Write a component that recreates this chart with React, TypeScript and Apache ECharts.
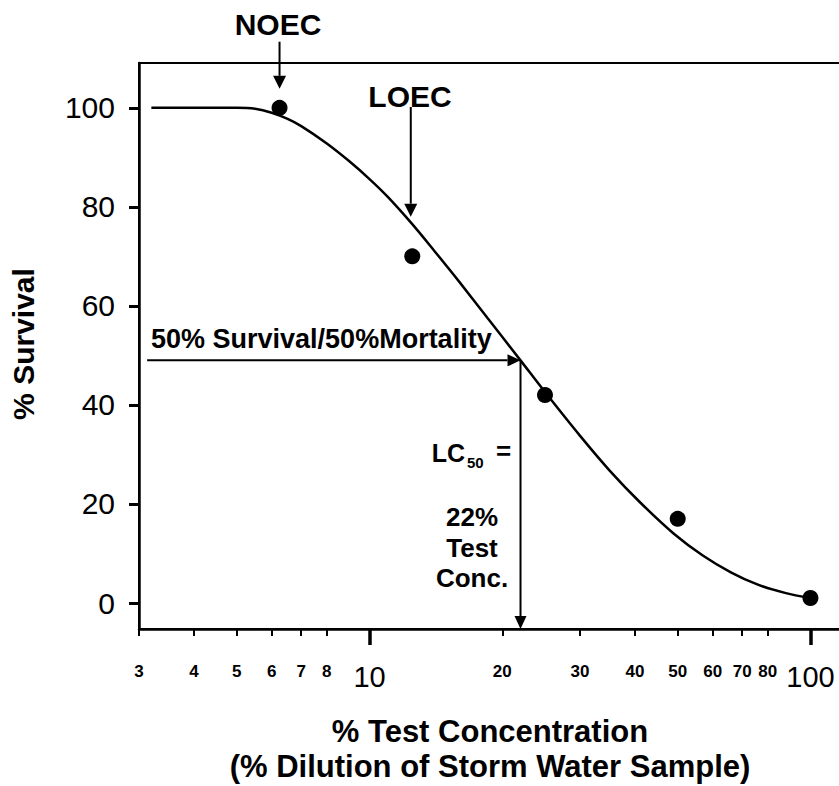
import React, { useEffect, useRef } from "react";
import * as echarts from "echarts";

// Observed test results (concentration %, survival %)
const concentrations = [6.25, 12.5, 25, 50, 100];
const survival = [100, 70, 42, 17, 1];

// Fitted dose-response curve
const curveConc = [3.2, 4, 5, 5.5, 6, 6.5, 7, 8, 9, 10, 11, 12.5, 14, 16, 18.5, 22, 25, 30, 35, 41, 49, 57, 66, 76, 88, 100];
const curveSurv = [100, 100, 100, 99.8, 99.0, 97.8, 96.3, 92.8, 89.2, 85.6, 82.0, 76.5, 71.2, 64.8, 57.6, 49.0, 42.6, 33.8, 26.8, 20.4, 14.0, 9.6, 6.2, 3.7, 2.0, 1.0];

// Axis ticks
const xTickValues = [3, 4, 5, 6, 7, 8, 10, 20, 30, 40, 50, 60, 70, 80, 100];
const xMajorTicks = [10, 100];
const yTicks = [0, 20, 40, 60, 80, 100];

// Annotated values
const noecConc = 6.25;
const loecConc = 12.5;
const lc50Conc = 22;
const lc50Survival = 49;

const FONT = "'Liberation Sans', Arial, Helvetica, sans-serif";
const INK = "#000";

export default function App() {
  const ref = useRef<HTMLDivElement>(null);

  useEffect(() => {
    const el = ref.current!;
    const chart = echarts.init(el, null, { renderer: "svg" });
    const lg = (v: number) => Math.log10(v);
    const xMin = lg(3);
    const xMax = xMin + 720 / 440.9;
    const yMin = -5.25;
    const yMax = 109.05;

    chart.setOption({
      animation: false,
      backgroundColor: "#fff",
      textStyle: { fontFamily: FONT, color: INK },
      grid: {
        left: 139,
        top: 63,
        width: 720,
        height: 566,
        show: true,
        borderColor: INK,
        borderWidth: 2,
        backgroundColor: "transparent",
      },
      xAxis: [
        {
          type: "value",
          min: xMin,
          max: xMax,
          position: "bottom",
          axisLine: { show: true, onZero: false, lineStyle: { color: INK, width: 2.5 } },
          axisTick: {
            show: true,
            customValues: xTickValues.map(lg),
            length: 7,
            lineStyle: { color: INK, width: 2 },
          },
          axisLabel: {
            show: true,
            customValues: xTickValues.map(lg),
            margin: 32,
            formatter: (v: number) => {
              const n = Math.round(Math.pow(10, v));
              return xMajorTicks.includes(n) ? `{big|${n}}` : `{small|${n}}`;
            },
            rich: {
              small: { fontSize: 17, fontWeight: "bold", lineHeight: 20, color: INK, fontFamily: FONT },
              big: { fontSize: 29, lineHeight: 32, color: INK, fontFamily: FONT },
            },
          },
          splitLine: { show: false },
        },
        {
          type: "value",
          gridIndex: 0,
          min: xMin,
          max: xMax,
          position: "bottom",
          axisLine: { show: false, onZero: false },
          axisTick: {
            show: true,
            customValues: xMajorTicks.map(lg),
            length: 16,
            lineStyle: { color: INK, width: 3.5 },
          },
          axisLabel: { show: false },
          splitLine: { show: false },
        },
      ],
      yAxis: {
        type: "value",
        min: yMin,
        max: yMax,
        axisLine: { show: true, onZero: false, lineStyle: { color: INK, width: 2.5 } },
        axisTick: { show: true, customValues: yTicks, length: 10, lineStyle: { color: INK, width: 3 } },
        axisLabel: { show: true, customValues: yTicks, margin: 24, fontSize: 30, color: INK, fontFamily: FONT },
        splitLine: { show: false },
      },
      series: [
        {
          type: "line",
          xAxisIndex: 0,
          yAxisIndex: 0,
          data: curveConc.map((c, i) => [lg(c), curveSurv[i]]),
          smooth: 0.3,
          symbol: "none",
          showSymbol: false,
          lineStyle: { color: INK, width: 2.5 },
          z: 2,
        },
        {
          type: "scatter",
          xAxisIndex: 0,
          yAxisIndex: 0,
          data: concentrations.map((c, i) => [lg(c), survival[i]]),
          symbolSize: 16,
          itemStyle: { color: INK, opacity: 1 },
          z: 3,
        },
      ],
    });

    const P = (x: number, y: number) =>
      chart.convertToPixel({ xAxisIndex: 0, yAxisIndex: 0 }, [lg(x), y]) as number[];

    const arrow = (x1: number, y1: number, x2: number, y2: number, hl = 13, hw = 13) => {
      const dx = x2 - x1;
      const dy = y2 - y1;
      const len = Math.sqrt(dx * dx + dy * dy);
      const ux = dx / len;
      const uy = dy / len;
      const bx = x2 - ux * hl;
      const by = y2 - uy * hl;
      const px = -uy * (hw / 2);
      const py = ux * (hw / 2);
      return [
        { type: "line", shape: { x1, y1, x2: bx, y2: by }, style: { stroke: INK, lineWidth: 2 }, z: 10 },
        {
          type: "polygon",
          shape: { points: [[x2, y2], [bx + px, by + py], [bx - px, by - py]] },
          style: { fill: INK },
          z: 10,
        },
      ];
    };

    const txt = (text: string, x: number, y: number, size: number, bold: boolean, align = "center", extra: any = {}) => ({
      type: "text",
      x,
      y,
      z: 10,
      ...extra,
      style: {
        text,
        fill: INK,
        font: `${bold ? "bold " : ""}${size}px ${FONT}`,
        textAlign: align,
        align,
        textVerticalAlign: "middle",
        verticalAlign: "middle",
      },
    });

    const noec = P(noecConc, 100);
    const loec = P(loecConc, 100);
    const lc = P(lc50Conc, lc50Survival);
    const lcBottom = P(lc50Conc, yMin);
    const leftEdge = P(3.13, lc50Survival);

    const graphics: any[] = [
      ...arrow(noec[0], 41.7, noec[0], noec[1] - 19),
      ...arrow(loec[0] - 1.5, 107, loec[0] - 1.5, 216.7),
      ...arrow(leftEdge[0], lc[1], lc[0], lc[1], 13, 12),
      ...arrow(lc[0], lc[1], lcBottom[0], lcBottom[1], 13, 12),
      txt("NOEC", 278, 24, 30, true),
      txt("LOEC", 410, 96, 30, true),
      txt("50% Survival/50%Mortality", 151, 339, 27, true, "left"),
      txt("LC", 465, 452.5, 25, true, "right"),
      txt("50", 467, 462.5, 15, true, "left"),
      txt("=", 496, 451, 26, true, "left"),
      {
        type: "text",
        x: 472,
        y: 502,
        z: 10,
        style: {
          text: "22%\nTest\nConc.",
          fill: INK,
          font: `bold 26px ${FONT}`,
          textAlign: "center",
          align: "center",
          textVerticalAlign: "top",
          verticalAlign: "top",
          lineHeight: 30.5,
        },
      },
      txt("% Test Concentration", 490, 731, 31, true),
      txt("(% Dilution of Storm Water Sample)", 490, 766, 31, true),
      txt("% Survival", 23.5, 344, 30, true, "center", { rotation: Math.PI / 2 }),
    ];

    chart.setOption({ graphic: { elements: graphics } });

    return () => {
      chart.dispose();
    };
  }, []);

  return (
    <div
      ref={ref}
      style={{ position: "fixed", left: 0, top: 0, width: 880, height: 786, background: "#fff" }}
    />
  );
}
